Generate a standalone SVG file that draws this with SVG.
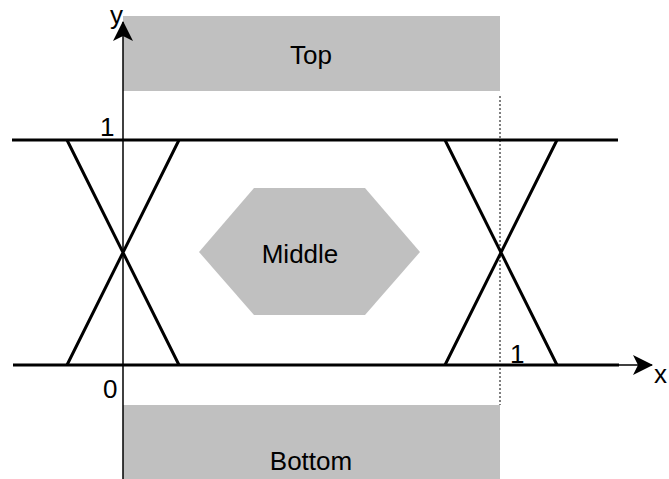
<svg xmlns="http://www.w3.org/2000/svg" width="669" height="479" viewBox="0 0 669 479">
<defs>
<style>
.box{fill:#c0c0c0;stroke:none}
.lbl{font-family:"Liberation Sans",Arial,sans-serif;fill:#000;font-size:26px}
.thick{stroke:#000;stroke-width:3;fill:none}
.thin{stroke:#000;stroke-width:1.5;fill:none}
</style>
<marker id="arr" markerWidth="20" markerHeight="20" refX="19" refY="10" orient="auto" markerUnits="userSpaceOnUse">
<path d="M0,0 L20,10 L0,20 L5,10 Z" fill="#000"/>
</marker>
</defs>
<rect width="669" height="479" fill="#fff"/>
<g id="top"><rect class="box" x="123" y="16" width="377" height="75"/><text class="lbl" x="311" y="64" text-anchor="middle">Top</text></g>
<g id="bottom"><rect class="box" x="123" y="405" width="377" height="74"/><text class="lbl" x="311" y="470" text-anchor="middle">Bottom</text></g>
<g id="middle"><polygon class="box" points="199,252 254,188 365,188 420,252 365,315 254,315"/><text class="lbl" x="300" y="263" text-anchor="middle">Middle</text></g>
<g id="connectors">
<line class="thin" x1="123" y1="479" x2="123" y2="22" marker-end="url(#arr)"/>
<line class="thin" x1="615" y1="365" x2="652" y2="365" marker-end="url(#arr)"/>
<line class="thick" x1="12" y1="140" x2="618" y2="140"/>
<line class="thick" x1="13" y1="365" x2="619" y2="365"/>
<line stroke="#000" stroke-width="1" stroke-dasharray="2,2" x1="500" y1="96" x2="500" y2="405"/>
<path class="thick" d="M67,140 L179,365 M179,140 L67,365"/>
<path class="thick" d="M445,140 L557,365 M557,140 L445,365"/>
</g>
<text class="lbl" x="110" y="24">y</text>
<text class="lbl" x="654" y="383">x</text>
<text class="lbl" x="100" y="136">1</text>
<text class="lbl" x="510" y="363">1</text>
<text class="lbl" x="103" y="398">0</text>
</svg>
